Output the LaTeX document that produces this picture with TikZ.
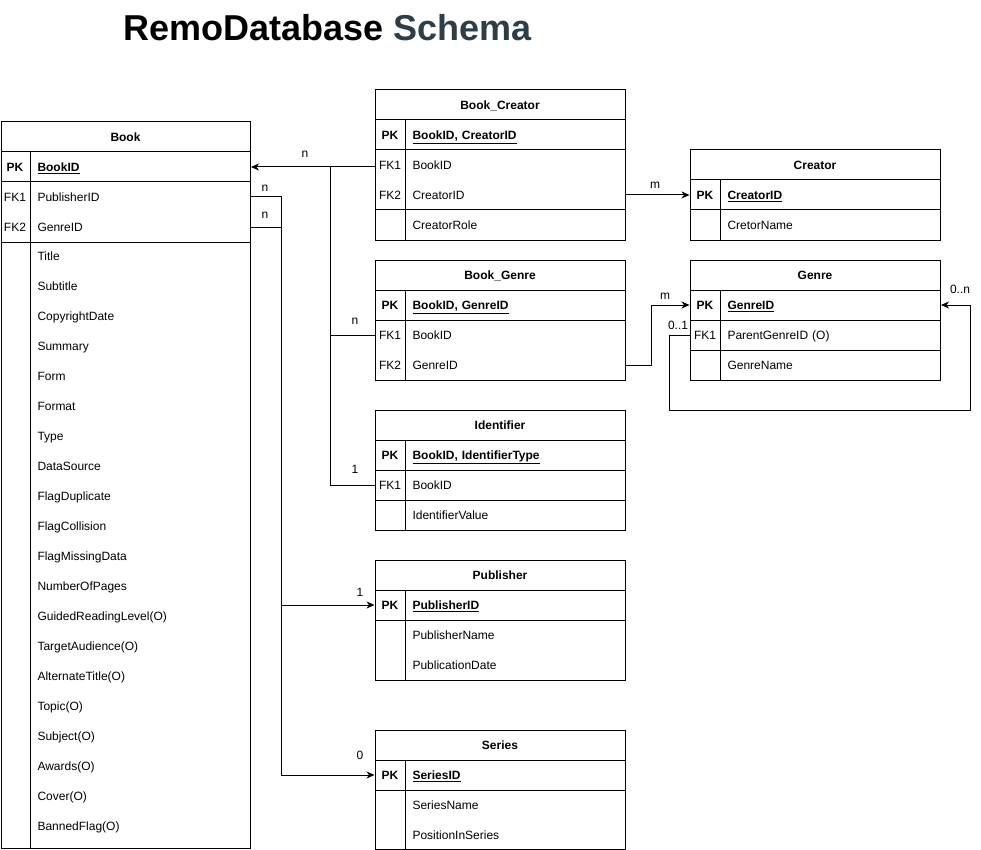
\documentclass[tikz,border=0pt]{standalone}
\usepackage{fontspec}
\setmainfont{Liberation Sans}
\usetikzlibrary{arrows.meta}
\definecolor{slate}{RGB}{46,62,72}
\newcommand\tblfont{\fontsize{12}{14}\selectfont}

\begin{document}
\begin{tikzpicture}[x=1pt,y=-1pt,font=\tblfont,line width=1pt,
	every node/.style={text height=11pt,text depth=1.5pt},
	tabhead/.style={font=\tblfont\bfseries,minimum width=250pt,minimum height=30pt,inner sep=0},
	keycell/.style={minimum width=30pt,minimum height=30pt,inner sep=0},
	pkcell/.style={keycell,font=\tblfont\bfseries},
	field/.style={anchor=west,minimum height=30pt,text width=206pt,inner xsep=7pt,inner ysep=0,align=left},
	pkfield/.style={field,font=\tblfont\bfseries},
	card/.style={inner sep=1pt},
	rel/.style={-{Stealth[length=8pt,width=7pt,inset=2.5pt]}}]
	\useasboundingbox (0,0) rectangle (981,850);
	\node[anchor=west,inner sep=0,text height=,text depth=,font=\fontsize{36}{40}\selectfont\bfseries] (title) at (123,28) {RemoDatabase \textcolor{slate}{Schema}};

	% Book
	\draw (1,122) rectangle (250,848);
	\draw (1,152) -- (250,152) (1,182) -- (250,182) (1,242) -- (250,242) (30,152) -- (30,848);
	\node[tabhead] (book) at (125.5,137) {Book};
	\node[pkcell] (book-k1) at (15,167) {PK};
	\node[pkfield] (book-f1) at (30,167) {\underline{BookID}};
	\node[keycell] (book-k2) at (15,197) {FK1};
	\node[field] (book-f2) at (30,197) {PublisherID};
	\node[keycell] (book-k3) at (15,227) {FK2};
	\node[field] (book-f3) at (30,227) {GenreID};
	\node[field] (book-f4) at (30,256) {Title};
	\node[field] (book-f5) at (30,286) {Subtitle};
	\node[field] (book-f6) at (30,316) {CopyrightDate};
	\node[field] (book-f7) at (30,346) {Summary};
	\node[field] (book-f8) at (30,376) {Form};
	\node[field] (book-f9) at (30,406) {Format};
	\node[field] (book-f10) at (30,436) {Type};
	\node[field] (book-f11) at (30,466) {DataSource};
	\node[field] (book-f12) at (30,496) {FlagDuplicate};
	\node[field] (book-f13) at (30,526) {FlagCollision};
	\node[field] (book-f14) at (30,556) {FlagMissingData};
	\node[field] (book-f15) at (30,586) {NumberOfPages};
	\node[field] (book-f16) at (30,616) {GuidedReadingLevel(O)};
	\node[field] (book-f17) at (30,646) {TargetAudience(O)};
	\node[field] (book-f18) at (30,676) {AlternateTitle(O)};
	\node[field] (book-f19) at (30,706) {Topic(O)};
	\node[field] (book-f20) at (30,736) {Subject(O)};
	\node[field] (book-f21) at (30,766) {Awards(O)};
	\node[field] (book-f22) at (30,796) {Cover(O)};
	\node[field] (book-f23) at (30,826) {BannedFlag(O)};

	% Book_Creator
	\draw (375,90) rectangle (625,240);
	\draw (375,120) -- (625,120) (375,150) -- (625,150) (375,210) -- (625,210) (405,120) -- (405,240);
	\node[tabhead] (bc) at (500,105) {Book\_Creator};
	\node[pkcell] (bc-k1) at (390,135) {PK};
	\node[pkfield] (bc-f1) at (405,135) {\underline{BookID, CreatorID}};
	\node[keycell] (bc-k2) at (390,165) {FK1};
	\node[field] (bc-f2) at (405,165) {BookID};
	\node[keycell] (bc-k3) at (390,195) {FK2};
	\node[field] (bc-f3) at (405,195) {CreatorID};
	\node[field] (bc-f4) at (405,225) {CreatorRole};

	% Creator
	\draw (690,150) rectangle (940,240);
	\draw (690,180) -- (940,180) (690,210) -- (940,210) (720,180) -- (720,240);
	\node[tabhead] (cr) at (815,165) {Creator};
	\node[pkcell] (cr-k1) at (705,195) {PK};
	\node[pkfield] (cr-f1) at (720,195) {\underline{CreatorID}};
	\node[field] (cr-f2) at (720,225) {CretorName};

	% Book_Genre
	\draw (375,260) rectangle (625,380);
	\draw (375,290) -- (625,290) (375,320) -- (625,320) (405,290) -- (405,380);
	\node[tabhead] (bg) at (500,275) {Book\_Genre};
	\node[pkcell] (bg-k1) at (390,305) {PK};
	\node[pkfield] (bg-f1) at (405,305) {\underline{BookID, GenreID}};
	\node[keycell] (bg-k2) at (390,335) {FK1};
	\node[field] (bg-f2) at (405,335) {BookID};
	\node[keycell] (bg-k3) at (390,365) {FK2};
	\node[field] (bg-f3) at (405,365) {GenreID};

	% Genre
	\draw (690,260) rectangle (940,380);
	\draw (690,290) -- (940,290) (690,320) -- (940,320) (690,350) -- (940,350) (720,290) -- (720,380);
	\node[tabhead] (gn) at (815,275) {Genre};
	\node[pkcell] (gn-k1) at (705,305) {PK};
	\node[pkfield] (gn-f1) at (720,305) {\underline{GenreID}};
	\node[keycell] (gn-k2) at (705,335) {FK1};
	\node[field] (gn-f2) at (720,335) {ParentGenreID (O)};
	\node[field] (gn-f3) at (720,365) {GenreName};

	% Identifier
	\draw (375,410) rectangle (625,530);
	\draw (375,440) -- (625,440) (375,470) -- (625,470) (375,500) -- (625,500) (405,440) -- (405,530);
	\node[tabhead] (id) at (500,425) {Identifier};
	\node[pkcell] (id-k1) at (390,455) {PK};
	\node[pkfield] (id-f1) at (405,455) {\underline{BookID, IdentifierType}};
	\node[keycell] (id-k2) at (390,485) {FK1};
	\node[field] (id-f2) at (405,485) {BookID};
	\node[field] (id-f3) at (405,515) {IdentifierValue};

	% Publisher
	\draw (375,560) rectangle (625,680);
	\draw (375,590) -- (625,590) (375,620) -- (625,620) (405,590) -- (405,680);
	\node[tabhead] (pub) at (500,575) {Publisher};
	\node[pkcell] (pub-k1) at (390,605) {PK};
	\node[pkfield] (pub-f1) at (405,605) {\underline{PublisherID}};
	\node[field] (pub-f2) at (405,635) {PublisherName};
	\node[field] (pub-f3) at (405,665) {PublicationDate};

	% Series
	\draw (375,730) rectangle (625,849);
	\draw (375,760) -- (625,760) (375,790) -- (625,790) (405,760) -- (405,849);
	\node[tabhead] (ser) at (500,745) {Series};
	\node[pkcell] (ser-k1) at (390,775) {PK};
	\node[pkfield] (ser-f1) at (405,775) {\underline{SeriesID}};
	\node[field] (ser-f2) at (405,805) {SeriesName};
	\node[field] (ser-f3) at (405,835) {PositionInSeries};

	% relations
	\coordinate (join) at (330,167);
	\coordinate (loop) at (970,410);
	\draw[rel] (bc-k2.west |- book-f1) -- (book-f1.east);
	\draw (bg-k2.west) -| (join);
	\draw (id-k2.west) -| (join);
	\draw[rel] (book-f2.east) -- ++(30,0) |- (pub-k1.west);
	\draw[rel] (book-f3.east) -- ++(30,0) |- (ser-k1.west);
	\draw[rel] (bc-f3.east) -- (cr-k1.west);
	\draw[rel] (bg-f3.east) -- ++(25,0) |- (gn-k1.west);
	\draw[rel] (gn-k2.west) -- ++(-20,0) |- (loop) |- (gn-f1.east);

	\node[card] (c1) at (305,153) {n};
	\node[card] (c2) at (265,187) {n};
	\node[card] (c3) at (265,214) {n};
	\node[card] (c4) at (355,320) {n};
	\node[card] (c5) at (355,469) {1};
	\node[card] (c6) at (360,592) {1};
	\node[card] (c7) at (360,755) {0};
	\node[card] (c8) at (655,184) {m};
	\node[card] (c9) at (665,295) {m};
	\node[card] (c10) at (678,325) {0..1};
	\node[card] (c11) at (960,289) {0..n};
\end{tikzpicture}
\end{document}
